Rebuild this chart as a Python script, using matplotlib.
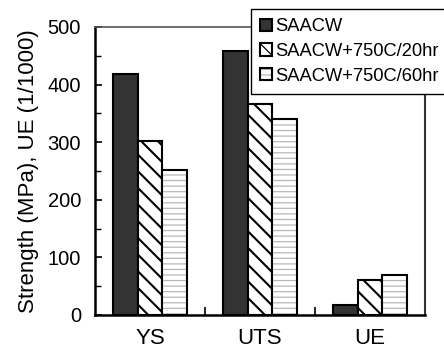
import matplotlib
matplotlib.use("Agg")
import matplotlib.pyplot as plt
import numpy as np
from matplotlib.legend_handler import HandlerTuple

plt.rcParams['font.family'] = ['Liberation Sans', 'DejaVu Sans']

categories = ["YS", "UTS", "UE"]
series_names = ["SAACW", "SAACW+750C/20hr", "SAACW+750C/60hr"]
saacw = [418, 458, 17]
saacw_20hr = [302, 367, 60]
saacw_60hr = [252, 340, 69]

fig = plt.figure(figsize=(4.44, 3.5), dpi=100)
ax = fig.add_axes([95/444, 1-315/350, 330/444, 288/350])

x = np.arange(len(categories))
w = 0.225

plt.rcParams['hatch.linewidth'] = 1.5
b1 = ax.bar(x - w, saacw, w, color='#333333', edgecolor='black', linewidth=1.5, zorder=2)
b2 = ax.bar(x, saacw_20hr, w, color='white', edgecolor='black', hatch='\\\\', linewidth=1.5, zorder=2)
plt.rcParams['hatch.linewidth'] = 0.9
b3f = ax.bar(x + w, saacw_60hr, w, color='white', edgecolor='#b8b8b8', hatch='---', linewidth=0, zorder=2)
b3e = ax.bar(x + w, saacw_60hr, w, fill=False, edgecolor='black', linewidth=1.5, zorder=3)

ax.set_xlim(-0.5, 2.5)
ax.set_ylim(0, 500)
ax.set_yticks(np.arange(0, 501, 100))
ax.set_yticks(np.arange(0, 501, 50), minor=True)
ax.tick_params(axis='y', which='major', direction='in', length=5, width=1.2, labelsize=14.5, pad=10)
ax.tick_params(axis='y', which='minor', direction='in', length=4, width=1.0)
ax.tick_params(axis='y', right=False, which='both')

ax.set_xticks(x)
ax.set_xticklabels(categories)
ax.set_xticks([0.5, 1.5], minor=True)
ax.tick_params(axis='x', which='major', length=0, labelsize=16, pad=9)
ax.tick_params(axis='x', which='minor', direction='in', length=6, width=1.2)

ax.set_ylabel("Strength (MPa), UE (1/1000)", fontsize=16, labelpad=6)

for s in ['left', 'bottom']:
    ax.spines[s].set_linewidth(1.8)
    ax.spines[s].set_color('black')
ax.spines['right'].set_linewidth(1.5)
ax.spines['right'].set_color('#333333')
ax.spines['top'].set_linewidth(1.2)
ax.spines['top'].set_color('#555555')

leg = fig.legend([b1, b2, (b3f, b3e)], series_names,
                 handler_map={tuple: HandlerTuple(ndivide=1, pad=0)},
                 loc='upper left', bbox_to_anchor=(251/444, 1-9/350),
                 borderaxespad=0, fancybox=False, framealpha=1,
                 edgecolor='black', fontsize=13.2,
                 handlelength=0.65, handleheight=0.65, handletextpad=0.15,
                 labelspacing=0.42, borderpad=0.5)
leg.get_frame().set_linewidth(1.0)

fig.savefig("out.png", dpi=100)
